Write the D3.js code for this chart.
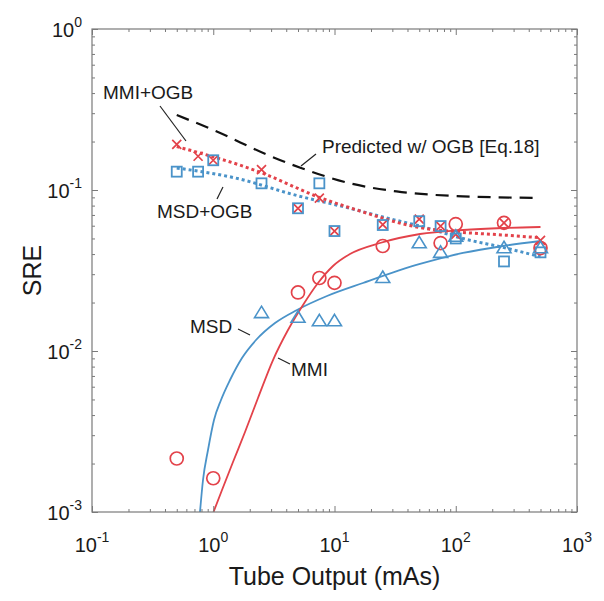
<!DOCTYPE html>
<html><head><meta charset="utf-8">
<script src="https://cdn.jsdelivr.net/npm/d3@7"></script>
<style>
html,body{margin:0;padding:0;background:#fff;}
svg{display:block;font-family:"Liberation Sans",Arial,Helvetica,sans-serif;}
</style></head>
<body><svg id="c" width="604" height="601"></svg>
<script>
// ---------- data ----------
const tubeOutput = [0.5, 0.75, 1, 2.5, 5, 7.5, 10, 25, 50, 75, 100, 250, 500];
const mmiOgb = [0.192, 0.162, 0.153, 0.134, 0.077, 0.089, 0.0556, 0.061, 0.066, 0.0597, 0.053, 0.0625, 0.0486];
const msdOgb = [0.130, 0.130, 0.153, 0.110, 0.077, 0.110, 0.0556, 0.0606, 0.064, 0.0597, 0.050, 0.036, 0.041];
const mmi    = [0.00215, null, 0.00162, null, 0.0231, 0.0284, 0.0265, 0.0449, null, 0.0468, 0.0614, 0.0625, 0.0436];
const msd    = [null, null, null, 0.0173, 0.0162, 0.0154, 0.0154, 0.0286, 0.047, 0.041, 0.0516, 0.0438, 0.0438];

const msdFitX = [0.7775, 0.8232, 0.9051, 1.0143, 1.1585, 1.3745, 1.7262, 2.2522, 3.2311, 4.906, 8.6752, 17.18, 50.74, 114.8, 245.3, 500];
const msdFitY = [0.001, 0.00158, 0.002427, 0.003726, 0.004963, 0.006604, 0.00905, 0.0117, 0.01492, 0.01798, 0.02196, 0.02645, 0.03471, 0.04062, 0.0449, 0.04823];
const mmiFitX = [1.005, 1.181, 1.455, 1.828, 2.339, 3.11, 4.135, 5.499, 7.311, 9.719, 13.42, 23.73, 50.74, 114.8, 245.3, 500];
const mmiFitY = [0.001, 0.001369, 0.002044, 0.00314, 0.005105, 0.00879, 0.0135, 0.01931, 0.02645, 0.03373, 0.04004, 0.04686, 0.05329, 0.05642, 0.05808, 0.05891];
const mmiOgbFitX = [0.5, 2.5, 7.5, 15, 50, 100, 250, 500];
const mmiOgbFitY = [0.186, 0.128, 0.090, 0.0755, 0.0585, 0.0550, 0.0525, 0.0505];
const msdOgbFitX = [0.5, 1.5, 5, 13.4, 25, 56, 114, 245, 500];
const msdOgbFitY = [0.137, 0.119, 0.092, 0.0770, 0.0680, 0.0585, 0.0500, 0.0440, 0.0385];
const predX = [0.5, 1.07, 2.76, 5.3, 13.4, 32.5, 114, 500];
const predY = [0.292, 0.231, 0.166, 0.137, 0.110, 0.098, 0.0914, 0.0893];

const xTickVals = [0.1, 1, 10, 100, 1000];
const xTickExp = ["-1", "0", "1", "2", "3"];
const yTickVals = [0.001, 0.01, 0.1, 1];
const yTickExp = ["-3", "-2", "-1", "0"];

// annotations: text, left x, baseline y, leader (x1,y1,x2,y2) in data units
const annText = ["MMI+OGB", "Predicted w/ OGB [Eq.18]", "MSD+OGB", "MSD", "MMI"];
const annX = [0.1232, 7.886, 0.3436, 0.643, 4.377];
const annY = [0.3675, 0.1698, 0.067, 0.01293, 0.007];
const leadX1 = [0.3637, 5.293, 1.074, 1.600, 3.420];
const leadY1 = [0.3324, 0.141, 0.0879, 0.01370, 0.00905];
const leadX2 = [0.596, 7.037, 1.203, 2.010, 4.295];
const leadY2 = [0.2015, 0.1674, 0.1044, 0.01257, 0.0083];

// ---------- drawing ----------
const RED = "#e3424a", BLUE = "#4a93c9";
const L = 92, R = 577, T = 29, B = 512;
const svg = d3.select("#c");
const x = d3.scaleLog().domain([0.1, 1000]).range([L, R]);
const y = d3.scaleLog().domain([0.001, 1]).range([B, T]);

const defs = svg.append("defs");
defs.append("clipPath").attr("id", "clip").append("rect")
  .attr("x", L).attr("y", T).attr("width", R - L).attr("height", B - T);

const plot = svg.append("g").attr("clip-path", "url(#clip)");

const line = d3.line().x(d => x(d[0])).y(d => y(d[1])).curve(d3.curveMonotoneX);
const zip = (a, b) => a.map((v, i) => [v, b[i]]);

plot.append("path").attr("d", line(zip(predX, predY)))
  .attr("fill", "none").attr("stroke", "#111").attr("stroke-width", 2.2).attr("stroke-dasharray", "13,8");
plot.append("path").attr("d", line(zip(msdOgbFitX, msdOgbFitY)))
  .attr("fill", "none").attr("stroke", BLUE).attr("stroke-width", 3).attr("stroke-dasharray", "3,3");
plot.append("path").attr("d", line(zip(mmiOgbFitX, mmiOgbFitY)))
  .attr("fill", "none").attr("stroke", RED).attr("stroke-width", 3).attr("stroke-dasharray", "3,3");
plot.append("path").attr("d", line(zip(msdFitX, msdFitY)))
  .attr("fill", "none").attr("stroke", BLUE).attr("stroke-width", 1.8);
plot.append("path").attr("d", line(zip(mmiFitX, mmiFitY)))
  .attr("fill", "none").attr("stroke", RED).attr("stroke-width", 1.8);

// markers
const pts = (vals) => tubeOutput.map((t, i) => [t, vals[i]]).filter(d => d[1] != null);
plot.selectAll(".cross").data(pts(mmiOgb)).join("path")
  .attr("transform", d => `translate(${x(d[0])},${y(d[1])})`)
  .attr("d", "M-4.5,-4.5L4.5,4.5M-4.5,4.5L4.5,-4.5")
  .attr("stroke", RED).attr("stroke-width", 1.7).attr("fill", "none");
plot.selectAll(".sq").data(pts(msdOgb)).join("rect")
  .attr("x", d => x(d[0]) - 5).attr("y", d => y(d[1]) - 5).attr("width", 10).attr("height", 10)
  .attr("stroke", BLUE).attr("stroke-width", 1.8).attr("fill", "none");
plot.selectAll(".circ").data(pts(mmi)).join("circle")
  .attr("cx", d => x(d[0])).attr("cy", d => y(d[1])).attr("r", 6.5)
  .attr("stroke", RED).attr("stroke-width", 1.7).attr("fill", "none");
plot.selectAll(".tri").data(pts(msd)).join("path")
  .attr("transform", d => `translate(${x(d[0])},${y(d[1])})`)
  .attr("d", "M0,-6.5L7,5L-7,5Z")
  .attr("stroke", BLUE).attr("stroke-width", 1.6).attr("fill", "none");

// annotations
const ann = svg.append("g");
annText.forEach((t, i) => {
  ann.append("line").attr("x1", x(leadX1[i])).attr("y1", y(leadY1[i]))
    .attr("x2", x(leadX2[i])).attr("y2", y(leadY2[i]))
    .attr("stroke", "#222").attr("stroke-width", 1.2);
  ann.append("text").attr("x", x(annX[i])).attr("y", y(annY[i]))
    .attr("font-size", 19).attr("fill", "#1a1a1a").text(t);
});

// axes box and ticks
const axisCol = "#7a7a7a";
const majorX = xTickVals, minorX = x.ticks().filter(v => !xTickVals.includes(v));
const majorY = yTickVals, minorY = y.ticks().filter(v => !yTickVals.some(m => Math.abs(m - v) < 1e-12));

function styleAxis(g) {
  g.select(".domain").remove();
  g.selectAll("line").attr("stroke", axisCol);
  g.selectAll("text").remove();
}
svg.append("g").attr("transform", `translate(0,${B})`).call(d3.axisBottom(x).tickValues(majorX).tickSize(-6)).call(styleAxis);
svg.append("g").attr("transform", `translate(0,${B})`).call(d3.axisBottom(x).tickValues(minorX).tickSize(-3)).call(styleAxis);
svg.append("g").attr("transform", `translate(0,${T})`).call(d3.axisTop(x).tickValues(majorX).tickSize(-6)).call(styleAxis);
svg.append("g").attr("transform", `translate(0,${T})`).call(d3.axisTop(x).tickValues(minorX).tickSize(-3)).call(styleAxis);
svg.append("g").attr("transform", `translate(${L},0)`).call(d3.axisLeft(y).tickValues(majorY).tickSize(-6)).call(styleAxis);
svg.append("g").attr("transform", `translate(${L},0)`).call(d3.axisLeft(y).tickValues(minorY).tickSize(-3)).call(styleAxis);
svg.append("g").attr("transform", `translate(${R},0)`).call(d3.axisRight(y).tickValues(majorY).tickSize(-6)).call(styleAxis);
svg.append("g").attr("transform", `translate(${R},0)`).call(d3.axisRight(y).tickValues(minorY).tickSize(-3)).call(styleAxis);
svg.append("rect").attr("x", L).attr("y", T).attr("width", R - L).attr("height", B - T)
  .attr("fill", "none").attr("stroke", axisCol).attr("stroke-width", 1.2);

// tick labels
xTickVals.forEach((v, i) => {
  const t = svg.append("text").attr("x", x(v)).attr("y", B + 40).attr("text-anchor", "middle")
    .attr("font-size", 20).attr("fill", "#1a1a1a");
  t.append("tspan").text("10");
  t.append("tspan").attr("dy", -10).attr("font-size", 14).text(xTickExp[i]);
});
yTickVals.forEach((v, i) => {
  const t = svg.append("text").attr("x", L - 10).attr("y", y(v) + 8).attr("text-anchor", "end")
    .attr("font-size", 20).attr("fill", "#1a1a1a");
  t.append("tspan").text("10");
  t.append("tspan").attr("dy", -10).attr("font-size", 14).text(yTickExp[i]);
});

// axis titles
svg.append("text").attr("x", (L + R) / 2).attr("y", 585).attr("text-anchor", "middle")
  .attr("font-size", 25).attr("fill", "#1a1a1a").text("Tube Output (mAs)");
svg.append("text").attr("transform", `translate(41,${(T + B) / 2}) rotate(-90)`).attr("text-anchor", "middle")
  .attr("font-size", 25).attr("fill", "#1a1a1a").text("SRE");
</script></body></html>
